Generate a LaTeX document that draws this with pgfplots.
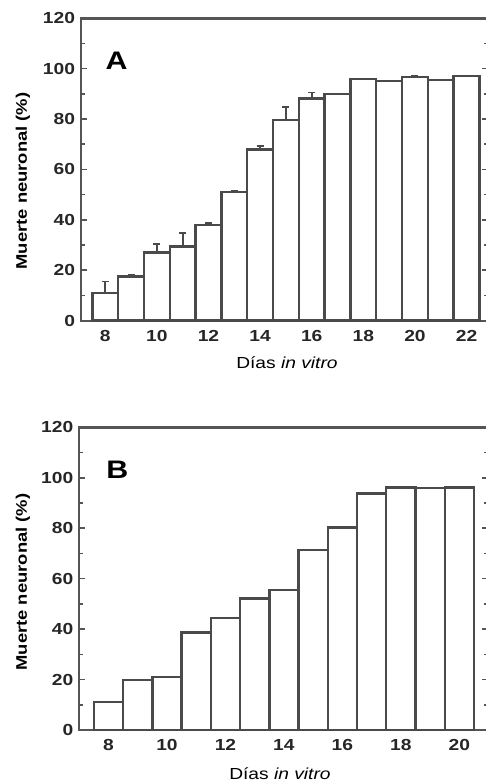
\documentclass[border=0pt]{standalone}
\usepackage{pgfplots}
\pgfplotsset{compat=1.18}
\usepackage{pgfplotstable}
\usepackage{fontspec}
\setmainfont{Liberation Sans}[FakeStretch=1.2]
\definecolor{axcol}{HTML}{555555}
\definecolor{barcol}{HTML}{4A4A4A}

\pgfplotstableread{
day val err
8 11.1 4.4
9 17.5 0.5
10 27.0 3.5
11 29.4 5.3
12 38.0 0.9
13 51.1 0.3
14 68.0 1.3
15 79.6 5.1
16 88.1 2.4
17 90.0 0.2
18 95.8 0.3
19 95.2 0.1
20 96.8 0.2
21 95.5 0.2
22 97.2 0.0
}\dataA

\pgfplotstableread{
day val
8 11.0
9 19.8
10 20.9
11 38.6
12 44.5
13 52.2
14 55.5
15 71.4
16 80.3
17 93.8
18 96.1
19 95.9
20 96.2
}\dataB

\pgfplotsset{
  myaxis/.style={
    scale only axis,
    anchor=south west,
    clip=false,
    ymin=0, ymax=120,
    ytick={0,20,...,120},
    minor y tick num=1,
    minor x tick num=1,
    tick align=inside,
    xtick pos=left,
    ytick pos=both,
    major tick length=4.5pt,
    minor tick length=3pt,
    every tick/.style={axcol, line width=1.2pt},
    axis line style={axcol, line width=1.6pt},
    /pgf/number format/assume math mode=true,
    ticklabel style={font=\fontsize{12}{14}\selectfont\bfseries, text=black!85},
    label style={font=\fontsize{12}{14}\selectfont},
    ylabel={\fontsize{11.5}{14}\selectfont\bfseries Muerte neuronal (\%)},
    xlabel={Días \textit{in vitro}},
    yticklabel style={xshift=-1pt},
    xticklabel style={yshift=-3.5pt},
  },
  mybars/.style={
    ybar, bar width=1, bar shift=0pt,
    draw=barcol, fill=white, line width=1.8pt,
  },
}

\begin{document}
\begin{tikzpicture}
\useasboundingbox (0,0) rectangle (364.5pt,-587.25pt);
\clip (0,0) rectangle (364.5pt,-587.25pt);

% Panel A
\begin{axis}[myaxis,
  at={(60.75pt,-240.5pt)},
  width=305.25pt, height=226.8pt,
  xmin=7.06, xmax=22.83,
  xtick={8,10,...,22},
  xlabel style={at={(axis description cs:0.506,-0.139)}, anchor=center},
  ylabel style={at={(axis description cs:-0.1425,0.462)}, anchor=center},
]
\addplot[mybars,
  error bars/.cd, y dir=plus, y explicit,
  error bar style={barcol, line width=1.3pt},
  error mark options={barcol, rotate=90, mark size=2.6pt, line width=1.3pt},
] table[x=day, y=val, y error=err] {\dataA};
\draw[axcol, line width=2.5pt] (rel axis cs:0,1) -- (rel axis cs:1,1);
\node[font=\fontsize{19}{21}\selectfont\bfseries] at (axis cs:8.44,103) {A};
\end{axis}

% Panel B
\begin{axis}[myaxis,
  at={(59.475pt,-547.5pt)},
  width=306.5pt, height=227pt,
  xmin=7.0, xmax=20.98,
  xtick={8,10,...,20},
  xlabel style={at={(axis description cs:0.491,-0.145)}, anchor=center},
  ylabel style={at={(axis description cs:-0.1378,0.489)}, anchor=center},
]
\addplot[mybars] table[x=day, y=val] {\dataB};
\draw[axcol, line width=2.5pt] (rel axis cs:0,1) -- (rel axis cs:1,1);
\node[font=\fontsize{19}{21}\selectfont\bfseries] at (axis cs:8.3,103) {B};
\end{axis}
\end{tikzpicture}
\end{document}
